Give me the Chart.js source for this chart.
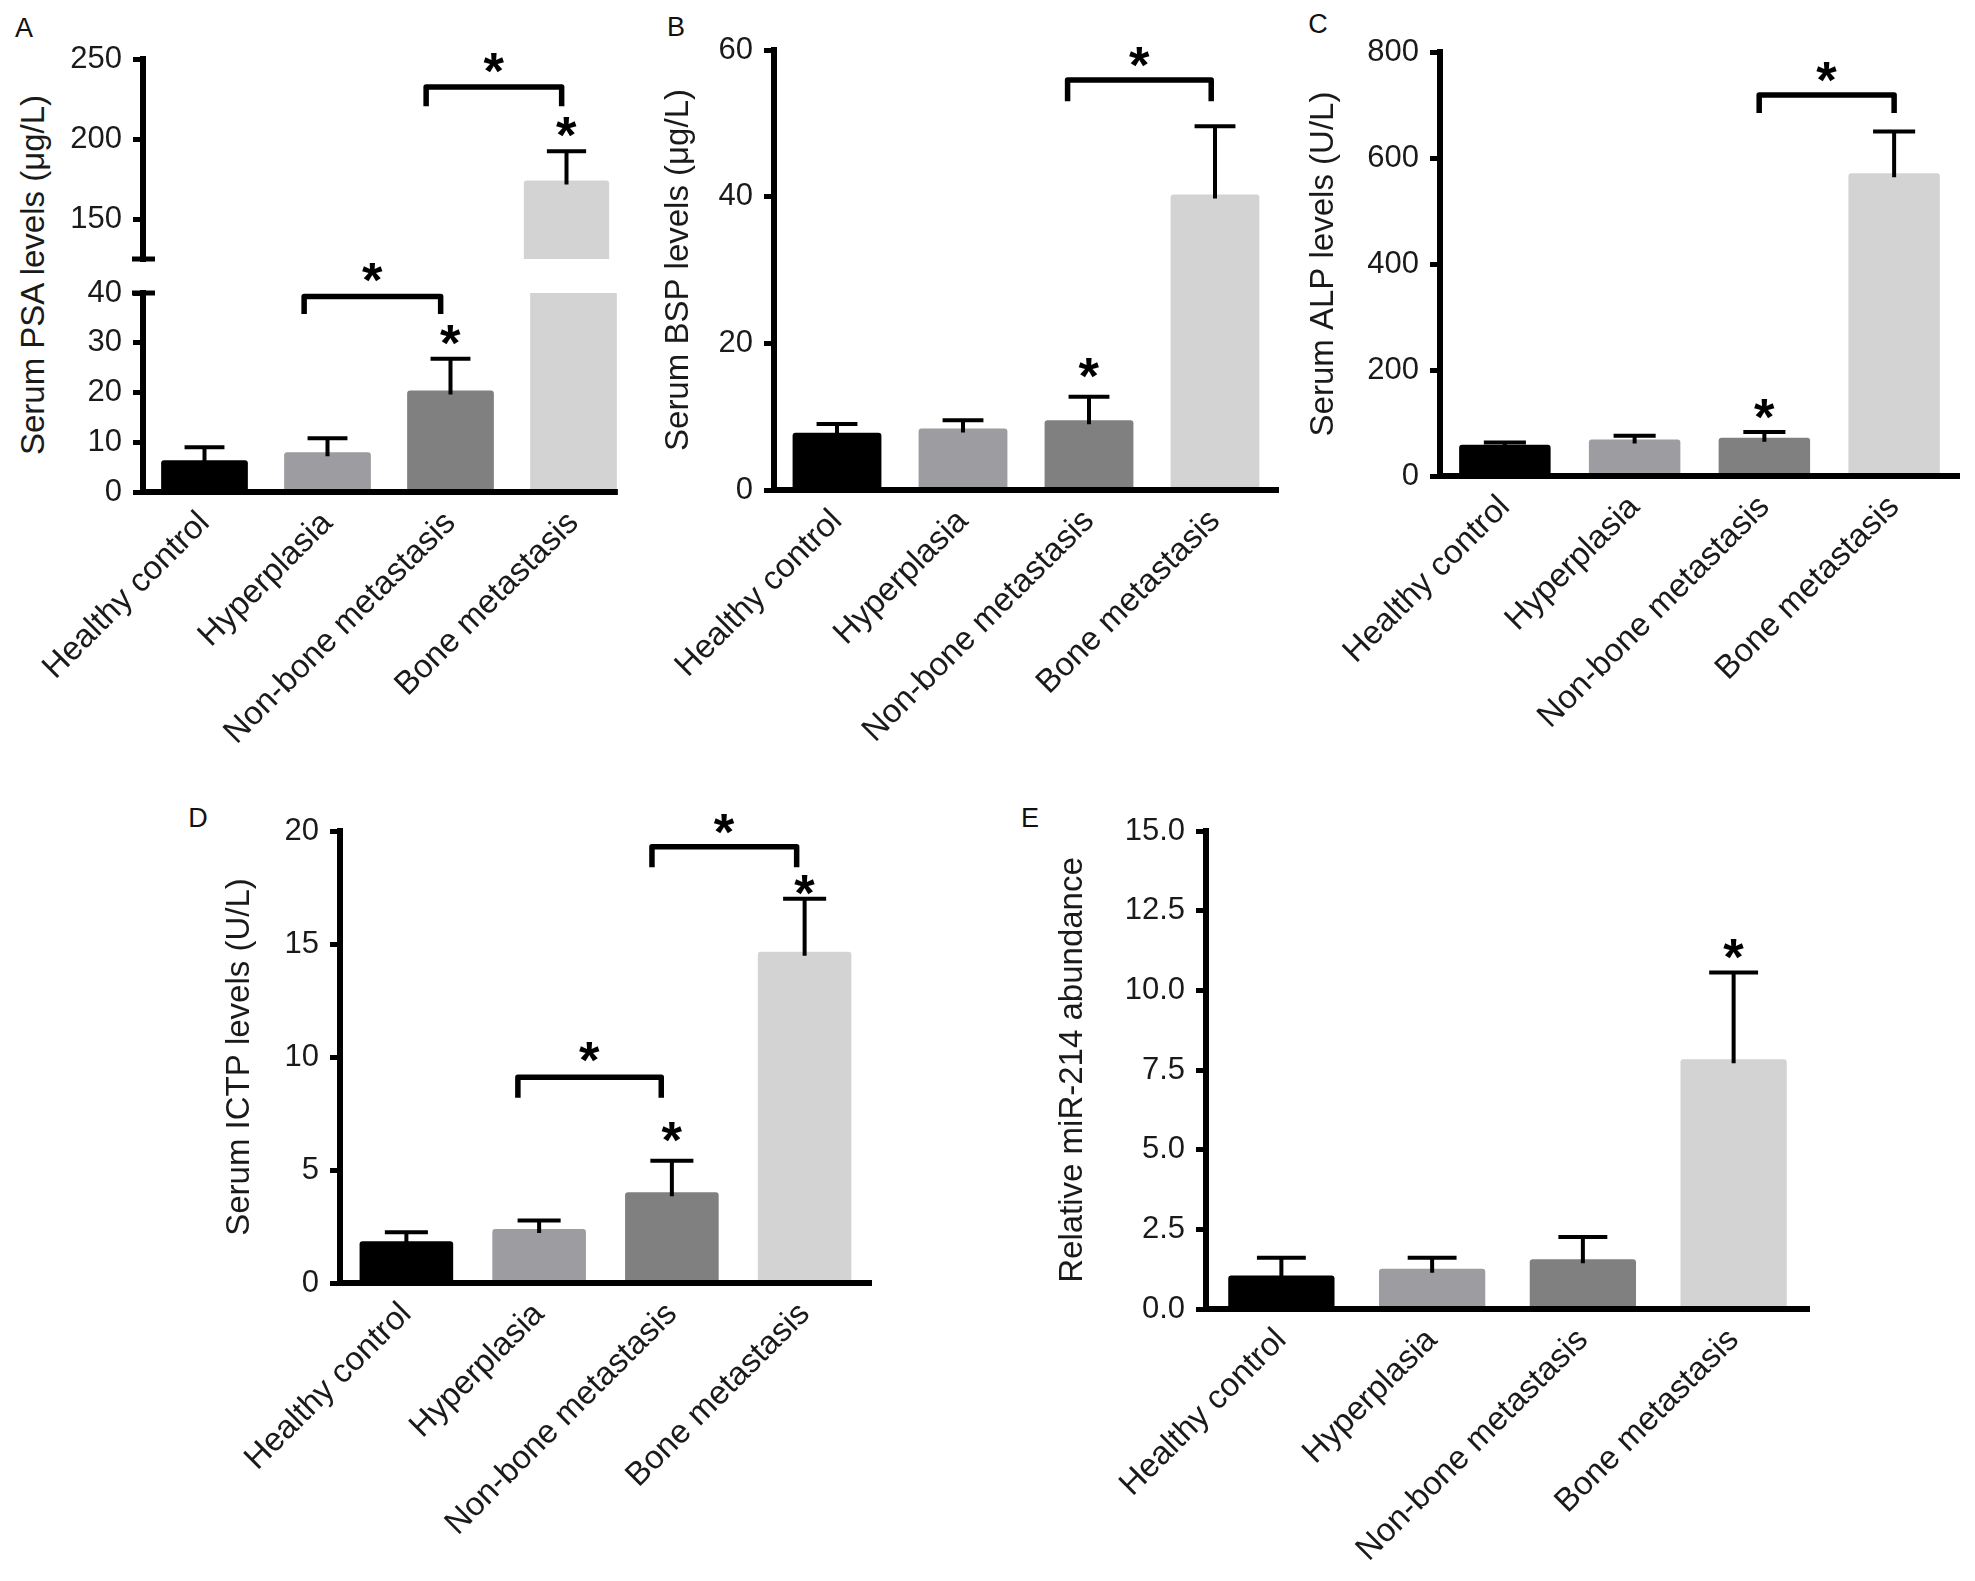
<!DOCTYPE html>
<html>
<head>
<meta charset="utf-8">
<script src="https://cdn.jsdelivr.net/npm/chart.js@4.4.1/dist/chart.umd.min.js"></script>
<style>
  html, body { margin: 0; padding: 0; background: #ffffff; }
  body { width: 1975px; height: 1581px; position: relative; overflow: hidden;
         font-family: "Liberation Sans", Arial, sans-serif; }
  canvas { position: absolute; }
  .letter { position: absolute; font-size: 27px; color: #111; line-height: 1;
            transform: translate(-50%, -50%); }
  .vtitle { position: absolute; font-size: 33px; color: #1a1a1a; white-space: nowrap; line-height: 1;
            transform: translate(-50%, -50%) rotate(-90deg); }
</style>
</head>
<body>
<div class="letter" style="left:24px;top:28px;">A</div>
<div class="letter" style="left:676px;top:27px;">B</div>
<div class="letter" style="left:1318px;top:24px;">C</div>
<div class="letter" style="left:198px;top:818px;">D</div>
<div class="letter" style="left:1030px;top:818px;">E</div>
<div class="vtitle" id="titleA" style="left:32px;top:275px;">Serum PSA levels (μg/L)</div>

<canvas id="cAhi" width="612" height="260" style="left:25px;top:29px;"></canvas>
<canvas id="cAlo" width="620" height="489" style="left:25px;top:263px;"></canvas>
<canvas id="cB" width="629" height="730" style="left:659px;top:20px;"></canvas>
<canvas id="cC" width="665" height="724" style="left:1304px;top:22px;"></canvas>
<canvas id="cD" width="661" height="772" style="left:220px;top:801px;"></canvas>
<canvas id="cE" width="766" height="773" style="left:1053px;top:801px;"></canvas>

<script>
// ---------------- data ----------------
const categories = ['Healthy control', 'Hyperplasia', 'Non-bone metastasis', 'Bone metastasis'];
const barColors = ['#000000', '#9c9ca1', '#808080', '#d3d3d3'];

const psaMean = [6.4, 8.0, 20.4, 174];
const psaSem  = [2.6, 2.8, 6.4, 18.4];
const bspMean = [7.8, 8.4, 9.5, 40.3];
const bspSem  = [1.2, 1.1, 3.2, 9.3];
const alpMean = [59, 69, 72, 571];
const alpSem  = [4, 7, 11, 79];
const ictpMean = [1.85, 2.39, 4.02, 14.66];
const ictpSem  = [0.4, 0.38, 1.39, 2.34];
const mirMean = [1.05, 1.26, 1.56, 7.84];
const mirSem  = [0.56, 0.35, 0.70, 2.72];

const psaTicksHigh = [150, 200, 250];
const psaTicksLow  = [0, 10, 20, 30, 40];
const bspTicks  = [0, 20, 40, 60];
const alpTicks  = [0, 200, 400, 600, 800];
const ictpTicks = [0, 5, 10, 15, 20];
const mirTicks  = [0, 2.5, 5, 7.5, 10, 12.5, 15];

// significance marks (category index, value units)
const psaStarsHigh = [{ at: 3, y: 207.5 }];
const psaBracketsHigh = [{ from: 1.84, to: 2.96, y: 232.5, leg: 220.5, star: 247.5 }];
const psaStarsLow = [{ at: 2, y: 31.6 }];
const psaBracketsLow = [{ from: 0.81, to: 1.92, y: 39.3, leg: 35.8, star: 44.2 }];
const bspStars = [{ at: 2, y: 16.6 }];
const bspBrackets = [{ from: 1.83, to: 2.97, y: 55.9, leg: 53.0, star: 59.0 }];
const alpStars = [{ at: 2, y: 126 }];
const alpBrackets = [{ from: 1.96, to: 3.0, y: 719, leg: 685, star: 762 }];
const ictpStars = [{ at: 2, y: 6.7 }, { at: 3, y: 17.6 }];
const ictpBrackets = [
  { from: 0.84, to: 1.92, y: 9.1, leg: 8.2, star: 10.2 },
  { from: 1.85, to: 2.94, y: 19.3, leg: 18.4, star: 20.3 }
];
const mirStars = [{ at: 3, y: 11.3 }];
const mirBrackets = [];

// ---------------- drawing helpers ----------------
const FONT = '"Liberation Sans", Arial, sans-serif';
Chart.defaults.font.family = FONT;
const TEXT = '#1a1a1a';
const STAR_H = 20;

function drawStar(ctx, cx, cy) {
  ctx.font = 'bold 100px ' + FONT;
  const m = ctx.measureText('*');
  const h = m.actualBoundingBoxAscent + m.actualBoundingBoxDescent;
  const size = 100 * STAR_H / h;
  ctx.font = 'bold ' + size.toFixed(1) + 'px ' + FONT;
  const m2 = ctx.measureText('*');
  ctx.textAlign = 'left';
  ctx.textBaseline = 'alphabetic';
  const dx = (m2.actualBoundingBoxRight - m2.actualBoundingBoxLeft) / 2;
  const dy = (m2.actualBoundingBoxDescent - m2.actualBoundingBoxAscent) / 2;
  ctx.fillText('*', cx - dx, cy - dy);
}

const overlay = {
  id: 'overlay',
  afterDraw(chart, args, o) {
    const ctx = chart.ctx, xs = chart.scales.x, ys = chart.scales.y, area = chart.chartArea;
    const bars = chart.getDatasetMeta(0).data;
    ctx.save();
    ctx.strokeStyle = '#000';
    ctx.fillStyle = '#000';
    // x axis ending at the last bar (panel A style)
    if (o.axisToLastBar) {
      const last = bars[bars.length - 1];
      ctx.lineWidth = 6;
      ctx.beginPath();
      ctx.moveTo(area.left - 3, area.bottom);
      ctx.lineTo(last.x + last.width / 2 + 1, area.bottom);
      ctx.stroke();
    }
    // error bars (upper half)
    ctx.lineWidth = 4;
    ctx.lineCap = 'butt';
    bars.forEach((bar, i) => {
      const m = o.means[i], e = o.sems[i];
      if (m < ys.min || m > ys.max) return;
      const x = bar.x;
      const y0 = ys.getPixelForValue(m) + 4;
      const y1 = ys.getPixelForValue(m + e);
      const hw = bar.width * 0.23;
      ctx.beginPath();
      ctx.moveTo(x, y0); ctx.lineTo(x, y1);
      ctx.moveTo(x - hw, y1); ctx.lineTo(x + hw, y1);
      ctx.stroke();
    });
    // axis break caps
    ctx.lineWidth = 5;
    if (o.breakBottom) {
      ctx.beginPath(); ctx.moveTo(area.left - 11, area.bottom); ctx.lineTo(area.left + 12, area.bottom); ctx.stroke();
    }
    if (o.breakTop) {
      ctx.beginPath(); ctx.moveTo(area.left - 11, area.top); ctx.lineTo(area.left + 12, area.top); ctx.stroke();
    }
    // brackets
    ctx.lineWidth = 5.5;
    ctx.lineJoin = 'round';
    (o.brackets || []).forEach(b => {
      const x1 = xs.getPixelForValue(b.from), x2 = xs.getPixelForValue(b.to);
      const yt = ys.getPixelForValue(b.y), yl = ys.getPixelForValue(b.leg);
      ctx.beginPath();
      ctx.moveTo(x1, yl); ctx.lineTo(x1, yt); ctx.lineTo(x2, yt); ctx.lineTo(x2, yl);
      ctx.stroke();
      drawStar(ctx, (x1 + x2) / 2, ys.getPixelForValue(b.star));
    });
    // stars over bars
    (o.stars || []).forEach(s => {
      drawStar(ctx, bars[s.at].x, ys.getPixelForValue(s.y));
    });
    ctx.restore();
  }
};

function makeChart(id, c) {
  return new Chart(document.getElementById(id), {
    type: 'bar',
    data: {
      labels: categories,
      datasets: [{
        data: c.means,
        backgroundColor: barColors,
        borderWidth: 0,
        borderRadius: 3,
        borderSkipped: 'bottom',
        categoryPercentage: 1,
        barPercentage: 0.705,
        clip: 0
      }]
    },
    options: {
      responsive: false,
      maintainAspectRatio: false,
      animation: false,
      devicePixelRatio: 1,
      layout: { padding: { top: c.padTop, bottom: c.padBottom || 0, left: 0, right: 10 } },
      plugins: {
        legend: { display: false },
        tooltip: { enabled: false },
        overlay: {
          means: c.means, sems: c.sems, stars: c.stars, brackets: c.brackets,
          breakTop: !!c.breakTop, breakBottom: !!c.breakBottom, axisToLastBar: !!c.axisToLastBar
        }
      },
      scales: {
        x: {
          type: 'category',
          offset: true,
          display: c.showX,
          grid: { display: false, drawTicks: false },
          border: { display: !c.axisToLastBar, color: '#000', width: 6, z: 1 },
          ticks: {
            autoSkip: false, maxRotation: 45, minRotation: 45, padding: 12,
            color: TEXT, font: { size: 33 }
          },
          afterFit: s => { s.height = c.xHeight || 0; s.paddingLeft = 0; s.paddingRight = 0; }
        },
        y: {
          type: 'linear',
          min: c.min, max: c.max,
          grid: { display: true, drawOnChartArea: false, drawTicks: true, tickLength: 10, color: '#000', lineWidth: 5 },
          border: { display: true, color: '#000', width: 6, z: 1 },
          ticks: {
            padding: 11, color: TEXT, font: { size: 31 },
            callback: v => c.fmt ? c.fmt(v) : String(v)
          },
          afterBuildTicks: s => { s.ticks = c.ticks.map(v => ({ value: v })); },
          afterFit: s => { s.width = c.yWidth; s.paddingTop = 0; s.paddingBottom = 0; },
          title: {
            display: !!c.title, text: c.title || '', color: TEXT,
            font: { size: 33 }, padding: { top: 0, bottom: 0 }
          }
        }
      }
    },
    plugins: [overlay]
  });
}

// Panel A (broken axis: upper 125-250, lower 0-40)
makeChart('cAhi', { means: psaMean, sems: psaSem, ticks: psaTicksHigh, min: 125, max: 250,
  stars: psaStarsHigh, brackets: psaBracketsHigh, breakBottom: true,
  showX: false, yWidth: 118, padTop: 30, padBottom: 30 });
makeChart('cAlo', { means: psaMean, sems: psaSem, ticks: psaTicksLow, min: 0, max: 40,
  stars: psaStarsLow, brackets: psaBracketsLow, breakTop: true, axisToLastBar: true,
  showX: true, xHeight: 260, yWidth: 118, padTop: 30 });
// Panel B
makeChart('cB', { means: bspMean, sems: bspSem, ticks: bspTicks, min: 0, max: 60,
  stars: bspStars, brackets: bspBrackets, title: 'Serum BSP levels (μg/L)',
  showX: true, xHeight: 260, yWidth: 115, padTop: 30 });
// Panel C
makeChart('cC', { means: alpMean, sems: alpSem, ticks: alpTicks, min: 0, max: 800,
  stars: alpStars, brackets: alpBrackets, title: 'Serum ALP levels (U/L)',
  showX: true, xHeight: 270, yWidth: 136, padTop: 30 });
// Panel D
makeChart('cD', { means: ictpMean, sems: ictpSem, ticks: ictpTicks, min: 0, max: 20,
  stars: ictpStars, brackets: ictpBrackets, title: 'Serum ICTP levels (U/L)',
  showX: true, xHeight: 290, yWidth: 120, padTop: 30 });
// Panel E
makeChart('cE', { means: mirMean, sems: mirSem, ticks: mirTicks, min: 0, max: 15,
  stars: mirStars, brackets: mirBrackets, title: 'Relative miR-214 abundance',
  fmt: v => v.toFixed(1),
  showX: true, xHeight: 265, yWidth: 153, padTop: 30 });
</script>
</body>
</html>
